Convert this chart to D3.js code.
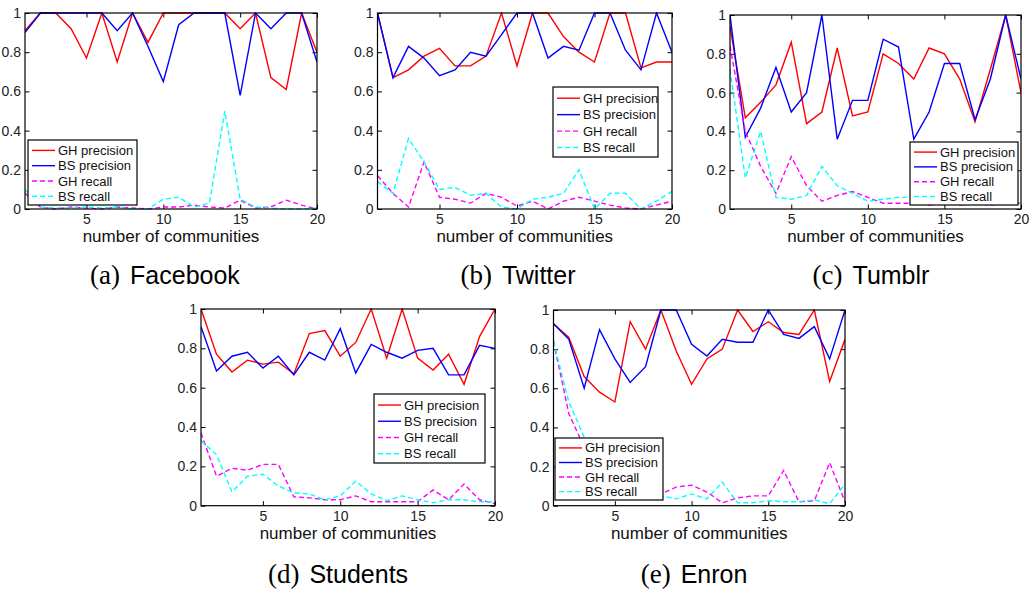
<!DOCTYPE html>
<html>
<head>
<meta charset="utf-8">
<script src="https://cdn.jsdelivr.net/npm/d3@7"></script>
<style>
  body { margin: 0; background: #fff; }
  svg { display: block; }
  .tick-label { font-family: "Liberation Sans", Arial, sans-serif; font-size: 14px; fill: #222; }
  .axis-title { font-family: "Liberation Sans", Arial, sans-serif; font-size: 17px; fill: #111; }
  .legend-text { font-family: "Liberation Sans", Arial, sans-serif; font-size: 13px; fill: #111; }
</style>
</head>
<body>
<div id="chart"></div>
<script>
// x categories: number of communities
const communities = [1,2,3,4,5,6,7,8,9,10,11,12,13,14,15,16,17,18,19,20];
const yTicks = [0, 0.2, 0.4, 0.6, 0.8, 1];
const xTicks = [5, 10, 15, 20];
const seriesNames = ['GH precision', 'BS precision', 'GH recall', 'BS recall'];
const seriesColors = ['#ff0000', '#0000ff', '#ff00ff', '#00ffff'];

// (a) Facebook
const fbGHPrec = [0.91,1,1,0.92,0.77,1,0.75,1,0.85,1,1,1,1,1,0.92,1,0.67,0.61,1,0.8];
const fbBSPrec = [0.9,1,1,1,1,1,0.91,1,0.83,0.65,0.94,1,1,1,0.58,1,0.92,1,1,0.75];
const fbGHRec  = [0.08,0.01,0,0.01,0.005,0,0.01,0.005,0,0.01,0.01,0.02,0.01,0.005,0.045,0.005,0.01,0.045,0.02,0];
const fbBSRec  = [0.1,0.01,0.005,0.005,0.01,0.005,0.01,0,0,0.05,0.06,0.01,0.03,0.5,0.05,0.01,0.005,0,0,0.005];

// (b) Twitter
const twGHPrec = [1,0.67,0.71,0.78,0.82,0.73,0.73,0.78,1,0.73,1,1,0.88,0.8,0.75,1,1,0.72,0.75,0.75];
const twBSPrec = [1,0.67,0.83,0.77,0.68,0.71,0.8,0.78,0.89,1,1,0.77,0.83,0.81,1,1,0.81,0.71,1,0.8];
const twGHRec  = [0.17,0.08,0.01,0.24,0.06,0.05,0.03,0.08,0.06,0.015,0.04,0,0.04,0.06,0.04,0.02,0.005,0,0.02,0.04];
const twBSRec  = [0.14,0.08,0.36,0.24,0.1,0.11,0.07,0.08,0.01,0,0.05,0.06,0.08,0.2,0,0.08,0.08,0,0.04,0.09];

// (c) Tumblr
const tuGHPrec = [0.94,0.47,0.55,0.64,0.86,0.44,0.5,0.83,0.48,0.5,0.8,0.75,0.67,0.83,0.8,0.67,0.45,0.72,1,0.6];
const tuBSPrec = [1,0.37,0.52,0.73,0.5,0.6,1,0.36,0.56,0.56,0.875,0.835,0.36,0.5,0.75,0.75,0.46,0.67,1,0.67];
const tuGHRec  = [0.84,0.4,0.22,0.08,0.27,0.12,0.04,0.07,0.09,0.06,0.03,0.03,0.03,0.02,0.03,0.02,0.03,0.02,0.03,0.03];
const tuBSRec  = [0.72,0.16,0.4,0.06,0.05,0.07,0.22,0.12,0.08,0.04,0.05,0.06,0.06,0.06,0.05,0.05,0.04,0.05,0.05,0.04];

// (d) Students
const stGHPrec = [1,0.77,0.68,0.74,0.72,0.73,0.67,0.875,0.89,0.76,0.83,1,0.75,1,0.75,0.69,0.77,0.617,0.86,1];
const stBSPrec = [0.91,0.685,0.76,0.78,0.7,0.76,0.665,0.78,0.74,0.9,0.675,0.82,0.78,0.75,0.79,0.8,0.665,0.665,0.815,0.8];
const stGHRec  = [0.37,0.15,0.19,0.18,0.21,0.21,0.045,0.04,0.03,0.03,0.05,0.02,0.02,0.02,0.02,0.08,0.03,0.11,0.03,0.01];
const stBSRec  = [0.33,0.26,0.07,0.15,0.16,0.1,0.065,0.06,0.03,0.05,0.125,0.06,0.025,0.05,0.03,0.015,0.03,0.03,0.02,0.02];

// (e) Enron
const enGHPrec = [0.93,0.86,0.66,0.58,0.53,0.94,0.8,1,0.79,0.62,0.75,0.8,1,0.89,0.94,0.885,0.875,1,0.635,0.85];
const enBSPrec = [0.93,0.85,0.6,0.9,0.75,0.63,0.71,1,1,0.825,0.765,0.85,0.835,0.835,1,0.875,0.855,0.915,0.75,1];
const enGHRec  = [0.84,0.47,0.3,0.15,0.08,0.05,0.05,0.06,0.095,0.105,0.07,0.015,0.04,0.05,0.05,0.18,0.02,0.025,0.22,0.02];
const enBSRec  = [0.84,0.53,0.35,0.15,0.08,0.06,0.05,0.05,0.035,0.06,0.035,0.12,0.015,0.015,0.025,0.02,0.02,0.03,0.01,0.11];

const W = 1032, H = 593;

// panel layout: plot box, legend box, caption position
const panels = [
  {tag:'(a)', name:'Facebook', data:[fbGHPrec,fbBSPrec,fbGHRec,fbBSRec],
   box:[25,13,317,209], legend:[28,140,109,65], cap:[165,284]},
  {tag:'(b)', name:'Twitter', data:[twGHPrec,twBSPrec,twGHRec,twBSRec],
   box:[377.5,13,672,209], legend:[553,87,105,70], cap:[518,284]},
  {tag:'(c)', name:'Tumblr', data:[tuGHPrec,tuBSPrec,tuGHRec,tuBSRec],
   box:[730,15,1021,209], legend:[910,142,108,63], cap:[871,284]},
  {tag:'(d)', name:'Students', data:[stGHPrec,stBSPrec,stGHRec,stBSRec],
   box:[201,309,495,505.7], legend:[374,394,111,69], cap:[338,583]},
  {tag:'(e)', name:'Enron', data:[enGHPrec,enBSPrec,enGHRec,enBSRec],
   box:[553.5,310,845,505.7], legend:[555,438,108,62], cap:[694,583]}
];

const svg = d3.select('#chart').append('svg')
  .attr('width', W)
  .attr('height', H);

panels.forEach(function(p, pi){
  const [x0, y0, x1, y1] = p.box;
  const x = d3.scaleLinear().domain([1, 20]).range([x0, x1]);
  const y = d3.scaleLinear().domain([0, 1]).range([y1, y0]);

  const g = svg.append('g').attr('class', 'panel panel-' + pi);

  // clip for lines
  g.append('clipPath').attr('id', 'clip' + pi)
    .append('rect')
    .attr('x', x0).attr('y', y0 - 1)
    .attr('width', x1 - x0).attr('height', y1 - y0 + 2);

  // axes: ticks inward on all four sides
  const tickLen = 4.5;
  const axB = d3.axisBottom(x).tickValues(xTicks).tickSize(-tickLen).tickFormat(d3.format('d')).tickPadding(5.5);
  const axT = d3.axisTop(x).tickValues(xTicks).tickSize(-tickLen).tickFormat('');
  const axL = d3.axisLeft(y).tickValues(yTicks).tickSize(-tickLen).tickFormat(d => d === 0 || d === 1 ? d : d3.format('.1f')(d)).tickPadding(4);
  const axR = d3.axisRight(y).tickValues(yTicks).tickSize(-tickLen).tickFormat('');

  function styleAxis(sel){
    sel.select('.domain').remove();
    sel.selectAll('.tick line').attr('stroke', '#000').attr('stroke-width', 1);
    sel.selectAll('.tick text').attr('class', 'tick-label').attr('fill', null)
      .style('font-size', null).style('font-family', null);
    sel.attr('font-size', null).attr('font-family', null);
  }

  g.append('g').attr('transform', `translate(0,${y1})`).call(axB).call(styleAxis);
  g.append('g').attr('transform', `translate(0,${y0})`).call(axT).call(styleAxis);
  g.append('g').attr('transform', `translate(${x0},0)`).call(axL).call(styleAxis);
  g.append('g').attr('transform', `translate(${x1},0)`).call(axR).call(styleAxis);

  // series lines
  const line = d3.line()
    .x((d, i) => x(communities[i]))
    .y(d => y(d));

  p.data.forEach(function(vals, si){
    g.append('path')
      .datum(vals)
      .attr('clip-path', `url(#clip${pi})`)
      .attr('fill', 'none')
      .attr('stroke', seriesColors[si])
      .attr('stroke-width', 1.4)
      .attr('stroke-dasharray', si >= 2 ? '5,3' : null)
      .attr('d', line);
  });

  // plot frame
  g.append('rect')
    .attr('x', x0).attr('y', y0)
    .attr('width', x1 - x0).attr('height', y1 - y0)
    .attr('fill', 'none')
    .attr('stroke', '#000')
    .attr('stroke-width', 1.2);

  // axis title
  g.append('text')
    .attr('class', 'axis-title')
    .attr('x', (x0 + x1) / 2)
    .attr('y', y1 + 33)
    .attr('text-anchor', 'middle')
    .text('number of communities');

  // legend
  const [lx, ly, lw, lh] = p.legend;
  const lg = g.append('g').attr('class', 'legend');
  lg.append('rect')
    .attr('x', lx).attr('y', ly)
    .attr('width', lw).attr('height', lh)
    .attr('fill', '#fff')
    .attr('stroke', '#000')
    .attr('stroke-width', 1.2);
  seriesNames.forEach(function(name, si){
    const ry = ly + lh * 0.16 + si * lh * 0.235;
    lg.append('line')
      .attr('x1', lx + 4).attr('x2', lx + 27)
      .attr('y1', ry).attr('y2', ry)
      .attr('stroke', seriesColors[si])
      .attr('stroke-width', 1.4)
      .attr('stroke-dasharray', si >= 2 ? '5,3' : null);
    lg.append('text')
      .attr('class', 'legend-text')
      .attr('x', lx + 30)
      .attr('y', ry)
      .attr('dy', '0.35em')
      .text(name);
  });

  // caption
  const cap = svg.append('text')
    .attr('x', p.cap[0])
    .attr('y', p.cap[1])
    .attr('text-anchor', 'middle')
    .attr('fill', '#000');
  cap.append('tspan')
    .style('font-family', '"Liberation Serif", "DejaVu Serif", serif')
    .style('font-size', '27px')
    .text(p.tag);
  cap.append('tspan')
    .attr('dx', 10)
    .style('font-family', '"Liberation Sans", Arial, sans-serif')
    .style('font-size', '25px')
    .text(p.name);
});
</script>
</body>
</html>
